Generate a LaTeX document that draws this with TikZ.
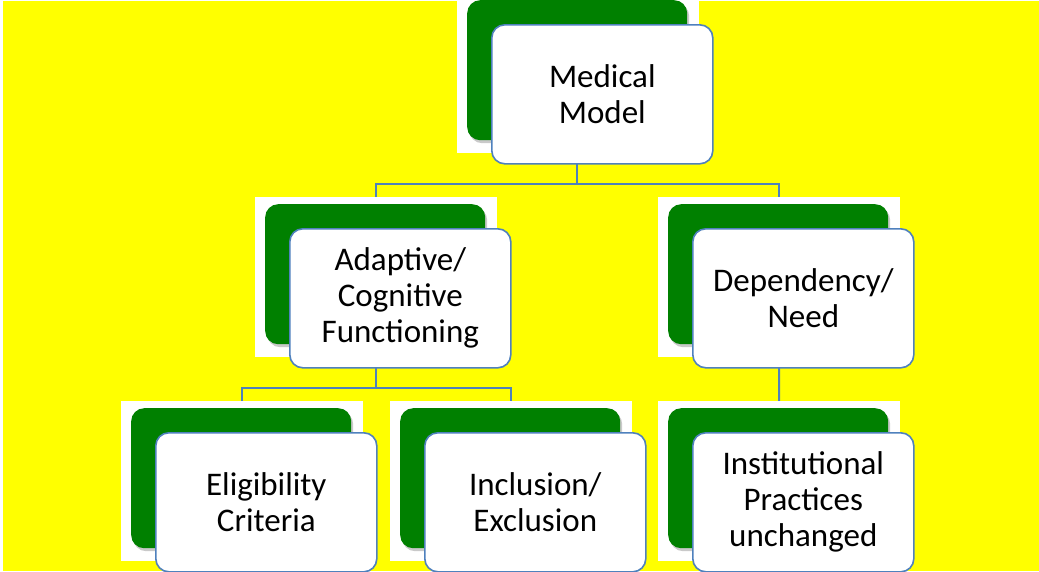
\documentclass[tikz,border=0pt]{standalone}
\usepackage{fontspec}
\setmainfont{Carlito}
\usetikzlibrary{shadows}
\definecolor{bgyellow}{HTML}{FFFF00}
\definecolor{dkgreen}{HTML}{008000}
\definecolor{boxblue}{HTML}{4F81BD}
\tikzset{
  patch/.style={anchor=north west, fill=white, draw=none, inner sep=0pt,
    minimum width=242pt, minimum height=160pt},
  greenbox/.style={anchor=north west, fill=dkgreen, draw=none, inner sep=0pt,
    rounded corners=13pt, minimum width=220pt, minimum height=140pt,
    drop shadow={shadow xshift=2pt, shadow yshift=-3pt, opacity=0.35, fill=black!60}},
  textbox/.style={anchor=north west, fill=white, draw=boxblue, line width=1.6pt,
    inner sep=0pt, rounded corners=13pt, minimum width=221pt, minimum height=139pt},
  lbl/.style={align=center, font=\fontsize{33}{36}\selectfont, text=black, inner sep=0pt},
  conn/.style={draw=boxblue, line width=2pt},
}
\newcommand{\orggroup}[4]{%
  % #1 name, #2 px, #3 py, #4 text
  \node[patch] (p#1) at (#2,#3) {};
  \node[greenbox] (g#1) at (#2+10,#3+7) {};
  \node[textbox] (b#1) at (#2+34,#3+31) {};
  \node[lbl] (t#1) at (b#1.center) {#4};
}
\begin{document}
\begin{tikzpicture}[x=1pt,y=-1pt]
\useasboundingbox (0,0) rectangle (1039,571);
\fill[white] (0,0) rectangle (1039,571);
\fill[bgyellow] (3,1) rectangle (1039,571);
% nodes (patches first so connectors can reference them)
\begin{scope}
\node[patch, minimum height=153pt] (pMed) at (457,0) {};
\node[patch] (pA) at (255,197) {};
\node[patch] (pD) at (658,197) {};
\node[patch] (pE) at (121,401) {};
\node[patch] (pI) at (390,401) {};
\node[patch] (pP) at (658,401) {};
\end{scope}
% connectors
\coordinate (busTop) at (577,184);
\coordinate (busMid) at (376,388);
\draw[conn] (577,163) -- (busTop);
\draw[conn] (pA.north) |- (busTop) -| (pD.north);
\draw[conn] (376,367) -- (busMid);
\draw[conn] (pE.north) |- (busMid) -| (pI.north);
\draw[conn] (779,367) -- (pP.north);
% groups
\node[patch, minimum height=153pt] at (457,0) {};
\node[greenbox] (gMed) at (467,0) {};
\node[textbox] (bMed) at (491,24) {};
\node[lbl] (tMed) at (bMed.center) {Medical\\Model};
\orggroup{A}{255}{197}{Adaptive/\\Cognitive\\Functioning}
\orggroup{D}{658}{197}{Dependency/\\Need}
\orggroup{E}{121}{401}{Eligibility\\Criteria}
\orggroup{I}{390}{401}{Inclusion/\\Exclusion}
\orggroup{P}{658}{401}{Institutional\\Practices\\unchanged}
\end{tikzpicture}
\end{document}
